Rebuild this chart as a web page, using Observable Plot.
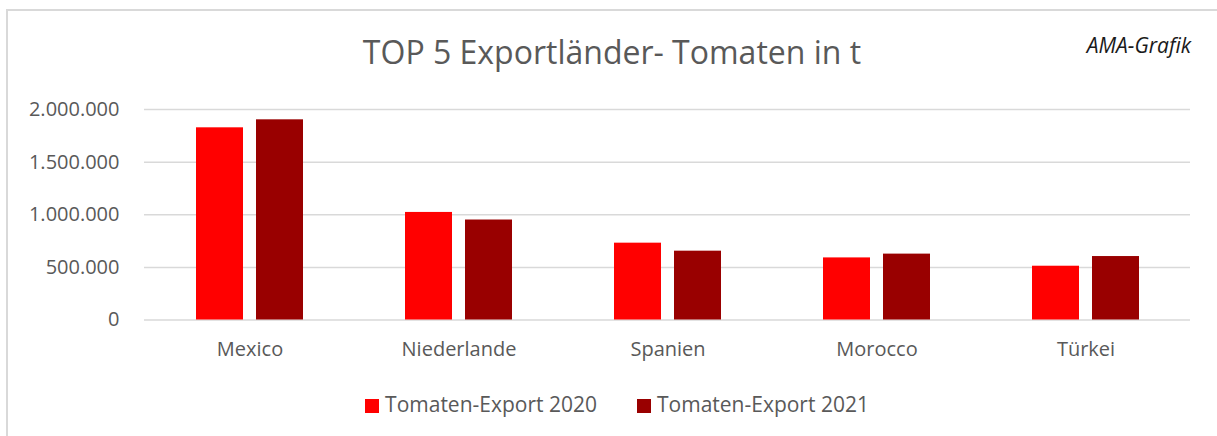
<!DOCTYPE html>
<html>
<head>
<meta charset="utf-8">
<script src="https://cdn.jsdelivr.net/npm/d3@7"></script>
<script src="https://cdn.jsdelivr.net/npm/@observablehq/plot@0.6"></script>
<style>
  html, body { margin: 0; padding: 0; background: #fff; }
  #root { position: relative; width: 1217px; height: 436px; overflow: hidden; font-family: "Open Sans", sans-serif; }
  #frame { position: absolute; left: 6px; top: 9px; width: 1300px; height: 500px; border-top: 2px solid #d9d9d9; border-left: 2px solid #d9d9d9; }
  #title { position: absolute; left: 312px; width: 600px; top: 32px; height: 40px; line-height: 40px; font-size: 32px; color: #595959; text-align: center; white-space: nowrap; }
  #credit { position: absolute; right: 26px; top: 34.5px; line-height: 20px; font-size: 21px; font-style: italic; color: #1a1a1a; white-space: nowrap; }
  #chart { position: absolute; left: 0; top: 72px; }
  #legend { position: absolute; left: 17px; width: 1200px; top: 394px; display: flex; justify-content: center; font-size: 21px; line-height: 21px; color: #595959; }
  .item { display: flex; align-items: center; margin: 0 20px; white-space: nowrap; }
  .sw { width: 14px; height: 14px; margin-right: 6px; margin-top: 2px; }
</style>
</head>
<body>
<div id="root">
  <div id="frame"></div>
  <div id="title"></div>
  <div id="credit"></div>
  <div id="chart"></div>
  <div id="legend"></div>
</div>
<script>
const titleText = "TOP 5 Exportländer- Tomaten in t";
const creditText = "AMA-Grafik";
const categories = ["Mexico", "Niederlande", "Spanien", "Morocco", "Türkei"];
const seriesNames = ["Tomaten-Export 2020", "Tomaten-Export 2021"];
const export2020 = [1826000, 1022000, 730000, 590000, 511000];
const export2021 = [1902000, 950000, 654000, 626000, 603000];
const seriesColors = ["#ff0000", "#990000"];
const yTicks = [0, 500000, 1000000, 1500000, 2000000];

document.getElementById("title").textContent = titleText;
document.getElementById("credit").textContent = creditText;

const fmt = d => d3.format(",")(d).replace(/,/g, ".");

const data2020 = categories.map((c, i) => ({country: c, value: export2020[i]}));
const data2021 = categories.map((c, i) => ({country: c, value: export2021[i]}));

const chart = Plot.plot({
  width: 1217,
  height: 290,
  marginLeft: 144,
  marginRight: 27,
  marginTop: 37,
  marginBottom: 42.5,
  style: {fontFamily: "Open Sans, sans-serif", fontSize: "20px", color: "#595959", background: "transparent"},
  x: {domain: categories, paddingInner: 0.49, paddingOuter: 0.245, label: null},
  y: {domain: [0, 2000000], label: null},
  marks: [
    Plot.gridY(yTicks, {stroke: "#d9d9d9", strokeOpacity: 1, strokeWidth: 1.5}),
    Plot.barY(data2020, {x: "country", y: "value", fill: seriesColors[0], insetLeft: 0, insetRight: 60}),
    Plot.barY(data2021, {x: "country", y: "value", fill: seriesColors[1], insetLeft: 60, insetRight: 0}),
    Plot.axisY({ticks: yTicks, tickFormat: fmt, tickSize: 0, tickPadding: 25, fontSize: 20, label: null}),
    Plot.axisX({tickSize: 0, tickPadding: 22, fontSize: 20, label: null})
  ]
});
document.getElementById("chart").appendChild(chart);

const legend = document.getElementById("legend");
seriesNames.forEach((name, i) => {
  const item = document.createElement("div");
  item.className = "item";
  const sw = document.createElement("span");
  sw.className = "sw";
  sw.style.background = seriesColors[i];
  const label = document.createElement("span");
  label.textContent = name;
  item.appendChild(sw);
  item.appendChild(label);
  legend.appendChild(item);
});
</script>
</body>
</html>
